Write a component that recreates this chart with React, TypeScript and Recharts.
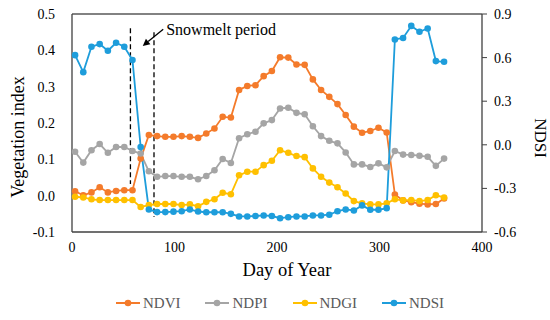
import React from 'react';
import { ComposedChart, Line, XAxis, YAxis, ReferenceLine, Legend } from 'recharts';

const FONT = '"Liberation Serif", "Times New Roman", serif';

const days = [3, 11, 19, 27, 35, 43, 51, 59, 67, 75, 83, 91, 99, 107, 115, 123, 131, 139, 147, 155, 163, 171, 179, 187, 195, 203, 211, 219, 227, 235, 243, 251, 259, 267, 275, 283, 291, 299, 307, 315, 323, 331, 339, 347, 355, 363];

const ndvi = [0.012, 0.001, 0.009, 0.023, 0.009, 0.013, 0.015, 0.015, 0.102, 0.167, 0.164, 0.162, 0.162, 0.164, 0.162, 0.159, 0.171, 0.185, 0.217, 0.215, 0.291, 0.302, 0.304, 0.329, 0.343, 0.381, 0.380, 0.361, 0.360, 0.320, 0.291, 0.272, 0.252, 0.222, 0.190, 0.173, 0.178, 0.187, 0.174, 0.003, -0.013, -0.018, -0.022, -0.024, -0.023, -0.008];

const ndpi = [0.121, 0.091, 0.125, 0.142, 0.118, 0.134, 0.134, 0.123, 0.116, 0.067, 0.052, 0.054, 0.054, 0.052, 0.052, 0.045, 0.054, 0.070, 0.101, 0.090, 0.158, 0.169, 0.176, 0.199, 0.208, 0.240, 0.242, 0.228, 0.224, 0.191, 0.164, 0.151, 0.144, 0.119, 0.086, 0.086, 0.079, 0.089, 0.078, 0.123, 0.113, 0.112, 0.110, 0.107, 0.082, 0.102];

const ndgi = [-0.003, -0.005, -0.010, -0.012, -0.012, -0.012, -0.012, -0.012, -0.031, -0.026, -0.023, -0.023, -0.023, -0.026, -0.024, -0.029, -0.017, -0.010, 0.008, 0.004, 0.056, 0.066, 0.066, 0.084, 0.096, 0.125, 0.118, 0.109, 0.106, 0.075, 0.052, 0.036, 0.023, 0.006, -0.015, -0.021, -0.024, -0.024, -0.021, -0.010, -0.013, -0.012, -0.015, -0.012, 0.001, -0.005];

const ndsi = [0.617, 0.500, 0.675, 0.693, 0.647, 0.702, 0.675, 0.583, -0.015, -0.445, -0.463, -0.463, -0.460, -0.457, -0.445, -0.459, -0.464, -0.464, -0.464, -0.475, -0.493, -0.493, -0.490, -0.486, -0.490, -0.505, -0.498, -0.493, -0.493, -0.486, -0.486, -0.481, -0.457, -0.445, -0.452, -0.417, -0.447, -0.447, -0.436, 0.725, 0.735, 0.818, 0.778, 0.800, 0.576, 0.571];

const xTicks = [0, 100, 200, 300, 400];
const leftTicks = [-0.1, 0, 0.1, 0.2, 0.3, 0.4, 0.5];
const rightTicks = [-0.6, -0.3, 0, 0.3, 0.6, 0.9];

const snowmeltStart = 57;
const snowmeltEnd = 80;

const series = [
  { key: 'NDVI', color: '#F47B2B', axis: 'left' },
  { key: 'NDPI', color: '#A5A5A5', axis: 'left' },
  { key: 'NDGI', color: '#FFC000', axis: 'left' },
  { key: 'NDSI', color: '#1E9DDB', axis: 'right' },
];

const data = days.map((d, i) => ({ day: d, NDVI: ndvi[i], NDPI: ndpi[i], NDGI: ndgi[i], NDSI: ndsi[i] }));

const LegendContent = () => (
  <div style={{ height: 24, display: 'flex', justifyContent: 'center', alignItems: 'center', gap: 25, paddingLeft: 10, boxSizing: 'border-box', fontFamily: FONT, fontSize: 15, color: '#595959' }}>
    {series.map((s) => (
      <div key={s.key} style={{ display: 'flex', alignItems: 'center' }}>
        <svg width={24} height={10} style={{ marginRight: 3 }}>
          <line x1={0} y1={5} x2={24} y2={5} stroke={s.color} strokeWidth={2} />
          <circle cx={12} cy={5} r={3.3} fill={s.color} />
        </svg>
        <span style={{ fontFamily: FONT }}>{s.key}</span>
      </div>
    ))}
  </div>
);

const ArrowShape = (props: any) => {
  const { x1, y1, x2, y2 } = props;
  if (x1 == null) return null;
  const ang = Math.atan2(y2 - y1, x2 - x1);
  const L = 7, W = 3.5;
  const bx = x2 - L * Math.cos(ang), by = y2 - L * Math.sin(ang);
  const px = -Math.sin(ang) * W, py = Math.cos(ang) * W;
  return (
    <g>
      <line x1={x1} y1={y1} x2={bx} y2={by} stroke="#000" strokeWidth={1.3} />
      <polygon points={`${x2},${y2} ${bx + px},${by + py} ${bx - px},${by - py}`} fill="#000" />
      <text x={x1 + 3} y={y1 + 6} fontFamily={FONT} fontSize={16} fill="#000">Snowmelt period</text>
    </g>
  );
};

const XTick = (p: any) => (
  <text x={p.x} y={p.y} dy="0.71em" textAnchor="middle" fontFamily={FONT} fontSize={14} fill="#000">{p.payload.value}</text>
);
const LeftTick = (p: any) => (
  <text x={p.x} y={p.y} dy="0.35em" textAnchor="end" fontFamily={FONT} fontSize={14} fill="#000">{Number(p.payload.value).toFixed(1)}</text>
);
const RightTick = (p: any) => (
  <text x={p.x} y={p.y} dy="0.35em" textAnchor="start" fontFamily={FONT} fontSize={14} fill="#000">{Number(p.payload.value).toFixed(1)}</text>
);

export default function App() {
  return (
    <div style={{ position: 'absolute', left: 0, top: 0, width: 550, height: 320, background: '#fff', fontFamily: FONT }}>
      <ComposedChart width={550} height={320} data={data} margin={{ top: 14, right: 0, bottom: 5, left: 0 }}>
        <XAxis
          dataKey="day"
          type="number"
          domain={[0, 400]}
          ticks={xTicks}
          allowDecimals={false}
          height={59}
          tickLine={false}
          tickSize={6}
          tickMargin={4}
          axisLine={{ stroke: '#404040', strokeWidth: 1.3 }}
          tick={XTick}
          label={(p: any) => (
            <text x={287} y={276} textAnchor="middle" fontFamily={FONT} fontSize={18.5} fill="#000">Day of Year</text>
          )}
        />
        <YAxis
          yAxisId="left"
          domain={[-0.1, 0.5]}
          ticks={leftTicks}
          width={72}
          tickLine={false}
          tickSize={8}
          tickMargin={9}
          axisLine={{ stroke: '#404040', strokeWidth: 1.3 }}
          tick={LeftTick}
          label={(p: any) => (
            <text transform="translate(24,137) rotate(-90)" textAnchor="middle" fontFamily={FONT} fontSize={18} fill="#000">Vegetation index</text>
          )}
        />
        <YAxis
          yAxisId="right"
          orientation="right"
          domain={[-0.6, 0.9]}
          ticks={rightTicks}
          width={68}
          tickLine={{ stroke: '#404040' }}
          tickSize={5}
          tickMargin={7}
          axisLine={{ stroke: '#404040', strokeWidth: 1.3 }}
          tick={RightTick}
          label={(p: any) => (
            <text transform="translate(540,138) rotate(90)" textAnchor="middle" dominantBaseline="central" fontFamily={FONT} fontSize={17} fill="#000">NDSI</text>
          )}
        />
        <ReferenceLine yAxisId="left" y={0.5} stroke="#595959" strokeWidth={1.5} />
        <ReferenceLine yAxisId="left" segment={[{ x: snowmeltStart, y: 0.461 }, { x: snowmeltStart, y: 0.032 }]} stroke="#000" strokeWidth={1.3} strokeDasharray="5 3" />
        <ReferenceLine yAxisId="left" segment={[{ x: snowmeltEnd, y: 0.45 }, { x: snowmeltEnd, y: -0.059 }]} stroke="#000" strokeWidth={1.3} strokeDasharray="5 3" />
        <ReferenceLine yAxisId="left" segment={[{ x: 89, y: 0.458 }, { x: 69, y: 0.412 }]} stroke="#000" shape={ArrowShape} />
        {series.map((s) => (
          <Line
            key={s.key}
            yAxisId={s.axis}
            dataKey={s.key}
            stroke={s.color}
            strokeWidth={1.8}
            dot={{ r: 3.3, fill: s.color, stroke: s.color, strokeWidth: 0 }}
            activeDot={false}
            isAnimationActive={false}
          />
        ))}
        <Legend verticalAlign="bottom" content={<LegendContent />} />
      </ComposedChart>
    </div>
  );
}
